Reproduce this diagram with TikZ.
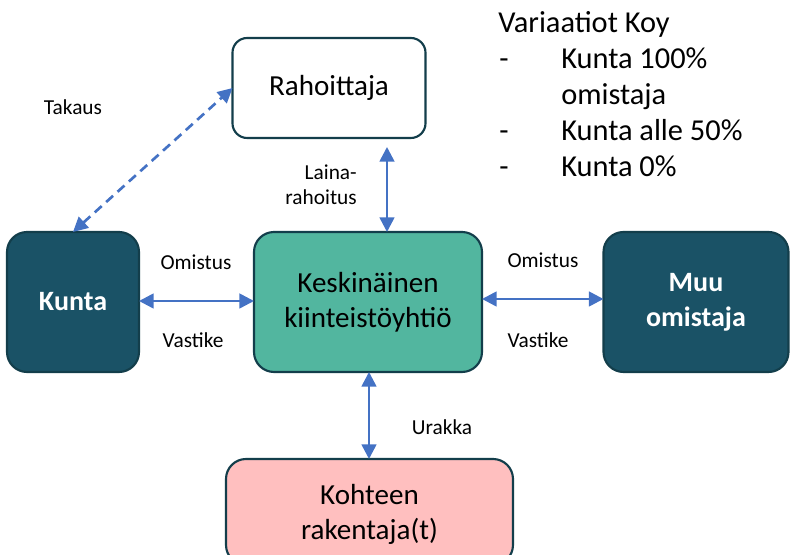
\documentclass[tikz,border=0pt]{standalone}
\usepackage{fontspec}
\setmainfont{Carlito}
\usetikzlibrary{arrows.meta}
\definecolor{darkteal}{HTML}{1A5266}
\definecolor{edgec}{HTML}{133E4B}
\definecolor{midteal}{HTML}{52B69F}
\definecolor{pinkc}{HTML}{FFBFBF}
\definecolor{arrc}{HTML}{4472C4}
\begin{document}
\begin{tikzpicture}[x=0.75pt,y=-0.75pt,
  box/.style={draw=edgec,line width=1.6pt,rounded corners=15pt,outer sep=0pt,inner sep=2pt,align=center,font=\fontsize{21.8}{26}\selectfont},
  darkbox/.style={box,fill=darkteal,text=white,font=\fontsize{21}{26}\selectfont\bfseries},
  lbl/.style={font=\fontsize{16}{19}\selectfont,inner sep=0pt,align=center},
  big/.style={font=\fontsize{22.8}{27}\selectfont,inner sep=0pt,anchor=base west},
  arr/.style={draw=arrc,line width=2pt,{Triangle[length=11pt,width=11pt]}-{Triangle[length=11pt,width=11pt]}}
]
\useasboundingbox (0,0) rectangle (790,555);
\clip (0,0) rectangle (790,555);

\node[box,fill=white,minimum width=144.75pt,minimum height=75pt,rounded corners=11pt] (rah) at (329,88) {Rahoittaja};
\node[darkbox,minimum width=99pt,minimum height=105pt] (kunta) at (73,302) {Kunta};
\node[box,fill=midteal,minimum width=171pt,minimum height=105pt] (kesk) at (368,302) {Keskinäinen\\kiinteistöyhtiö};
\node[darkbox,minimum width=138.75pt,minimum height=105pt] (muu) at (696,302) {Muu\\omistaja};
\node[box,fill=pinkc,minimum width=215.25pt,minimum height=79.5pt,text depth=0pt] (koh) at (369.5,512) {Kohteen\\rakentaja(t)};

\coordinate (cx1) at (387,0);
\coordinate (cx2) at (369,0);
\coordinate (cy1) at (0,301);
\coordinate (cy2) at (0,299);

\draw[arr] (kunta.east |- cy1) -- (kesk.west |- cy1);
\draw[arr] (kesk.east |- cy2) -- (muu.west |- cy2);
\draw[arr,shorten <=6.75pt] (rah.south -| cx1) -- (kesk.north -| cx1);
\draw[arr] (kesk.south -| cx2) -- (koh.north -| cx2);
\draw[arr,dashed,dash pattern=on 7pt off 4.5pt] (kunta.north) -- (rah.west);

\node[lbl] (takaus) at (73,107) {Takaus};
\node[lbl,anchor=east,align=right] (laina) at (357,185) {Laina-\\rahoitus};
\node[lbl] (om1) at (196,262) {Omistus};
\node[lbl] (va1) at (193,340) {Vastike};
\node[lbl] (om2) at (543,260) {Omistus};
\node[lbl] (va2) at (538,340) {Vastike};
\node[lbl] (urakka) at (442,427) {Urakka};

\node[big] (title) at (498,33) {Variaatiot Koy};
\node[big] (d1) at (499,69) {-};
\node[big] (t1) at (561,69) {Kunta 100\%};
\node[big] (t1b) at (561,105) {omistaja};
\node[big] (d2) at (499,141) {-};
\node[big] (t2) at (561,141) {Kunta alle 50\%};
\node[big] (d3) at (499,177) {-};
\node[big] (t3) at (561,177) {Kunta 0\%};
\end{tikzpicture}
\end{document}
